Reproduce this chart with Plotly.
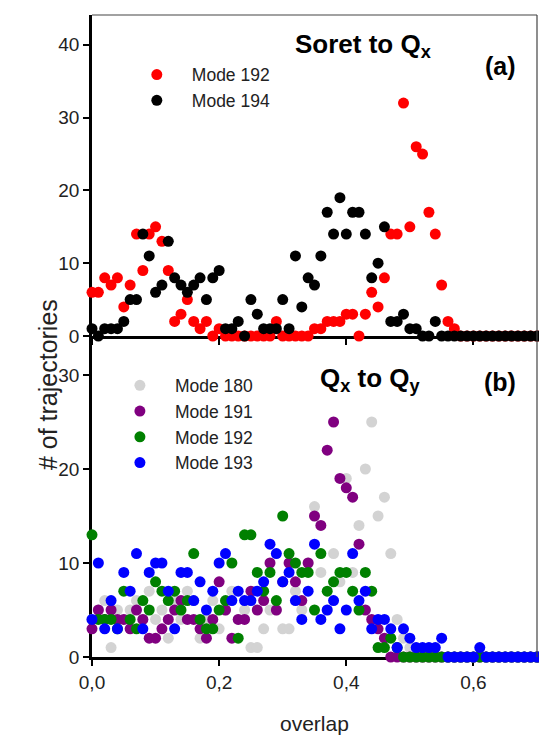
import plotly.graph_objects as go

# ---------------- data ----------------
overlap = [0.00, 0.01, 0.02, 0.03, 0.04, 0.05, 0.06, 0.07, 0.08, 0.09,
           0.10, 0.11, 0.12, 0.13, 0.14, 0.15, 0.16, 0.17, 0.18, 0.19,
           0.20, 0.21, 0.22, 0.23, 0.24, 0.25, 0.26, 0.27, 0.28, 0.29,
           0.30, 0.31, 0.32, 0.33, 0.34, 0.35, 0.36, 0.37, 0.38, 0.39,
           0.40, 0.41, 0.42, 0.43, 0.44, 0.45, 0.46, 0.47, 0.48, 0.49,
           0.50, 0.51, 0.52, 0.53, 0.54, 0.55, 0.56, 0.57, 0.58, 0.59,
           0.60, 0.61, 0.62, 0.63, 0.64, 0.65, 0.66, 0.67, 0.68, 0.69,
           0.70]

# panel (a): Soret to Qx
mode192_a = [6, 6, 8, 7, 8, 4, 7, 14, 9, 14,
             15, 13, 9, 2, 3, 5, 2, 1, 2, 0,
             1, 0, 0, 0, 0, 0, 0, 0, 0, 2,
             0, 0, 0, 0, 0, 1, 1, 2, 2, 2,
             3, 3, 0, 3, 6, 4, 8, 14, 14, 32,
             15, 26, 25, 17, 14, 7, 2, 1, 0, 0,
             0, 0, 0, 0, 0, 0, 0, 0, 0, 0,
             0]
mode194_a = [1, 0, 1, 1, 1, 2, 5, 5, 14, 11,
             6, 7, 13, 8, 7, 6, 7, 8, 5, 8,
             9, 1, 1, 2, 0, 5, 3, 1, 1, 1,
             5, 1, 11, 4, 8, 7, 11, 17, 14, 19,
             14, 17, 17, 14, 8, 10, 15, 2, 2, 3,
             1, 1, 0, 0, 2, 0, 0, 0, 0, 0,
             0, 0, 0, 0, 0, 0, 0, 0, 0, 0,
             0]

# panel (b): Qx to Qy
mode180_b = [4, 5, 6, 1, 5, 4, 5, 6, 4, 7,
             4, 5, 2, 6, 4, 7, 6, 2, 4, 6,
             3, 5, 7, 4, 5, 1, 1, 3, 5, 5,
             3, 3, 7, 5, 10, 16, 9, 5, 11, 8,
             19, 9, 14, 20, 25, 15, 17, 11, 4, 2,
             1, 0, 0, 0, 0, 0, 0, 0, 0, 0,
             0, 0, 0, 0, 0, 0, 0, 0, 0, 0,
             0]
mode191_b = [3, 5, 4, 5, 4, 4, 3, 5, 4, 2,
             2, 3, 4, 5, 6, 4, 4, 3, 2, 4,
             8, 5, 2, 4, 4, 7, 5, 6, 10, 5,
             8, 10, 8, 6, 10, 15, 14, 22, 25, 19,
             18, 17, 12, 5, 4, 3, 2, 0, 0, 0,
             0, 0, 0, 0, 0, 0, 0, 0, 0, 0,
             0, 0, 0, 0, 0, 0, 0, 0, 0, 0,
             0]
mode192_b = [13, 4, 4, 4, 3, 7, 4, 3, 6, 5,
             8, 7, 6, 7, 5, 6, 11, 4, 3, 3,
             5, 6, 10, 2, 13, 13, 9, 7, 9, 6,
             15, 11, 10, 9, 9, 5, 11, 7, 8, 9,
             9, 7, 5, 9, 7, 1, 1, 2, 1, 0,
             0, 0, 0, 0, 0, 0, 0, 0, 0, 0,
             0, 0, 0, 0, 0, 0, 0, 0, 0, 0,
             0]
mode193_b = [4, 10, 3, 6, 3, 9, 7, 11, 3, 9,
             10, 10, 7, 3, 9, 9, 6, 8, 5, 7,
             10, 11, 6, 7, 6, 6, 7, 8, 12, 11,
             8, 9, 6, 4, 7, 12, 4, 5, 6, 3,
             5, 11, 6, 7, 3, 4, 4, 3, 1, 3,
             2, 1, 1, 1, 1, 2, 0, 0, 0, 0,
             0, 1, 0, 0, 0, 0, 0, 0, 0, 0,
             0]

x_ticks = [0.0, 0.2, 0.4, 0.6]
x_tick_labels = ["0,0", "0,2", "0,4", "0,6"]
y_ticks_a = [0, 10, 20, 30, 40]
y_ticks_b = [0, 10, 20, 30]

# ---------------- figure ----------------
FONT = "Liberation Sans, Arial, sans-serif"
MS = 11
LEG_FS = 17.5

fig = go.Figure()

fig.add_trace(go.Scatter(x=overlap, y=mode192_a, mode="markers", name="Mode 192",
                         marker=dict(color="#FF0000", size=MS), cliponaxis=False,
                         xaxis="x", yaxis="y", legend="legend"))
fig.add_trace(go.Scatter(x=overlap, y=mode194_a, mode="markers", name="Mode 194",
                         marker=dict(color="#000000", size=MS), cliponaxis=False,
                         xaxis="x", yaxis="y", legend="legend"))

fig.add_trace(go.Scatter(x=overlap, y=mode180_b, mode="markers", name="Mode 180",
                         marker=dict(color="#D3D3D3", size=MS), cliponaxis=False,
                         xaxis="x2", yaxis="y2", legend="legend2"))
fig.add_trace(go.Scatter(x=overlap, y=mode191_b, mode="markers", name="Mode 191",
                         marker=dict(color="#800080", size=MS), cliponaxis=False,
                         xaxis="x2", yaxis="y2", legend="legend2"))
fig.add_trace(go.Scatter(x=overlap, y=mode192_b, mode="markers", name="Mode 192",
                         marker=dict(color="#008000", size=MS), cliponaxis=False,
                         xaxis="x2", yaxis="y2", legend="legend2"))
fig.add_trace(go.Scatter(x=overlap, y=mode193_b, mode="markers", name="Mode 193",
                         marker=dict(color="#0000FF", size=MS), cliponaxis=False,
                         xaxis="x2", yaxis="y2", legend="legend2"))

axis_common = dict(showline=True, linecolor="black", linewidth=2.5, ticks="outside",
                   ticklen=6, tickwidth=2, tickcolor="black", showgrid=False,
                   zeroline=False, layer="below traces",
                   tickfont=dict(family=FONT, size=19, color="#222"))

fig.update_layout(
    width=539, height=735,
    margin=dict(l=92, r=2, t=15, b=78),
    paper_bgcolor="white", plot_bgcolor="white",
    font=dict(family=FONT, color="#222"),
    xaxis=dict(domain=[0, 1], anchor="y", range=[0, 0.7], tickvals=x_ticks,
               showticklabels=False, **axis_common),
    yaxis=dict(domain=[0.5, 1], anchor="x", range=[0, 44.1], tickvals=y_ticks_a,
               **axis_common),
    xaxis2=dict(domain=[0, 1], anchor="y2", range=[0, 0.7], tickvals=x_ticks,
                ticktext=x_tick_labels, **axis_common),
    yaxis2=dict(domain=[0, 0.5], anchor="x2", range=[0, 34.15], tickvals=y_ticks_b,
                **axis_common),
    legend=dict(x=0.067, y=0.935, xanchor="left", yanchor="top",
                bgcolor="rgba(0,0,0,0)", font=dict(family=FONT, size=LEG_FS, color="#222"),
                itemwidth=60),
    legend2=dict(x=0.029, y=0.451, xanchor="left", yanchor="top",
                 bgcolor="rgba(0,0,0,0)", font=dict(family=FONT, size=LEG_FS, color="#222"),
                 itemwidth=60),
    shapes=[
        dict(type="line", xref="paper", yref="paper", x0=0, x1=1, y0=1, y1=1,
             line=dict(color="#444", width=1.2)),
        dict(type="line", xref="paper", yref="paper", x0=1, x1=1, y0=0, y1=1,
             line=dict(color="#444", width=1.2)),
    ],
    annotations=[
        dict(text="<b>Soret to Q<sub>x</sub></b>", xref="paper", yref="paper",
             x=0.452, y=0.953, xanchor="left", yanchor="middle", showarrow=False,
             font=dict(family=FONT, size=26, color="black")),
        dict(text="<b>(a)</b>", xref="paper", yref="paper",
             x=0.917, y=0.92, xanchor="center", yanchor="middle", showarrow=False,
             font=dict(family=FONT, size=25, color="black")),
        dict(text="<b>Q<sub>x</sub> to Q<sub>y</sub></b>", xref="paper", yref="paper",
             x=0.508, y=0.432, xanchor="left", yanchor="middle", showarrow=False,
             font=dict(family=FONT, size=26, color="black")),
        dict(text="<b>(b)</b>", xref="paper", yref="paper",
             x=0.917, y=0.429, xanchor="center", yanchor="middle", showarrow=False,
             font=dict(family=FONT, size=25, color="black")),
        dict(text="# of trajectories", xref="paper", yref="paper",
             x=-0.099, y=0.425, xanchor="center", yanchor="middle", textangle=-90,
             showarrow=False, font=dict(family=FONT, size=25, color="#222")),
        dict(text="overlap", xref="paper", yref="paper",
             x=0.501, y=-0.103, xanchor="center", yanchor="middle",
             showarrow=False, font=dict(family=FONT, size=21, color="#222")),
    ],
)

fig.write_html("out.html", config={"displayModeBar": False},
               post_script="document.body.style.margin='0';document.body.style.overflow='hidden';")
